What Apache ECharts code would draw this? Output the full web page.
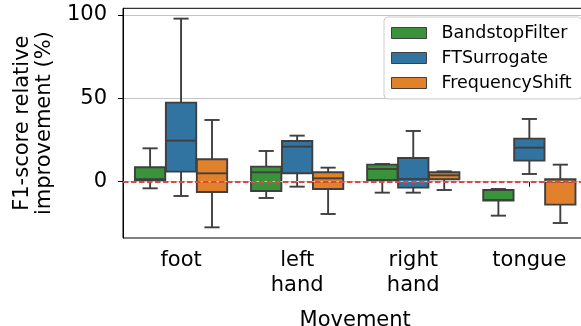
<!DOCTYPE html>
<html>
<head>
<meta charset="utf-8">
<script src="https://cdn.jsdelivr.net/npm/echarts@6/dist/echarts.min.js"></script>
<style>
  html, body { margin: 0; padding: 0; background: #fff; }
  #chart { width: 581px; height: 326px; }
</style>
</head>
<body>
<div id="chart"></div>
<script>
// Movement categories on the x axis
const categories = ['foot', 'left\nhand', 'right\nhand', 'tongue'];
const seriesNames = ['BandstopFilter', 'FTSurrogate', 'FrequencyShift'];
const seriesColors = ['#3a923a', '#3274a1', '#e1812c'];

// Each row: [low whisker, Q1, median, Q3, high whisker] in % improvement
const bandstopFilter = [
  [-4.0, 1.0, 1.5, 8.6, 20.0],
  [-9.8, -5.6, 5.6, 9.0, 18.4],
  [-6.6, 1.0, 7.6, 10.2, 10.6],
  [-20.4, -11.4, -11.0, -5.0, -4.4]
];
const ftSurrogate = [
  [-8.6, 6.0, 24.6, 47.4, 97.8],
  [-3.0, 5.0, 21.0, 24.4, 27.6],
  [-6.6, -3.6, 1.6, 14.2, 30.4],
  [4.6, 12.6, 20.4, 25.8, 37.6]
];
const frequencyShift = [
  [-27.4, -6.2, 5.0, 13.4, 37.0],
  [-19.4, -4.4, 2.0, 5.6, 8.4],
  [-5.0, 1.4, 3.8, 5.6, 6.2],
  [-24.8, -13.8, 0.0, 1.4, 10.2]
];
const yTicks = [0, 50, 100];

const seriesData = [bandstopFilter, ftSurrogate, frequencyShift];
const EDGE = '#3f3f3f';
const FONT = 'DejaVu Sans';

// Draws one box (whiskers, caps, box, median) per category, dodged by hue
function makeRenderer(hueIndex, color) {
  return function (params, api) {
    const cat = api.value(0);
    const band = api.size([1, 0])[0];
    const slot = band * 0.8 / 3;
    const boxW = slot * 0.98;
    const cx = api.coord([cat, 0])[0] + (hueIndex - 1) * slot;
    const y = (k) => api.coord([cat, api.value(k)])[1];
    const yMin = y(1), yQ1 = y(2), yMed = y(3), yQ3 = y(4), yMax = y(5);
    const edge = { stroke: EDGE, lineWidth: 1.9, fill: null };
    const line = (x1, y1, x2, y2) => ({ type: 'line', shape: { x1, y1, x2, y2 }, style: edge });
    return {
      type: 'group',
      children: [
        line(cx, yQ3, cx, yMax),
        line(cx, yQ1, cx, yMin),
        line(cx - boxW / 4, yMax, cx + boxW / 4, yMax),
        line(cx - boxW / 4, yMin, cx + boxW / 4, yMin),
        {
          type: 'rect',
          shape: { x: cx - boxW / 2, y: yQ3, width: boxW, height: yQ1 - yQ3 },
          style: { fill: color, stroke: EDGE, lineWidth: 1.9 }
        },
        line(cx - boxW / 2, yMed, cx + boxW / 2, yMed)
      ]
    };
  };
}

const series = seriesNames.map((name, h) => ({
  name: name,
  type: 'custom',
  renderItem: makeRenderer(h, seriesColors[h]),
  itemStyle: { color: seriesColors[h] },
  encode: { x: 0, y: [1, 2, 3, 4, 5] },
  data: seriesData[h].map((row, i) => [i].concat(row)),
  silent: true
}));

// Reference line at zero (gridline plus red dashed line on top of the boxes)
series[2].markLine = {
  silent: true,
  symbol: 'none',
  label: { show: false },
  animation: false,
  data: [
    { yAxis: 0, lineStyle: { color: '#c4c4c4', width: 1.2, type: 'solid' } },
    { yAxis: 0, lineStyle: { color: '#dd4848', width: 2, type: [5.5, 2.5] } }
  ]
};

const chart = echarts.init(document.getElementById('chart'), null, { renderer: 'canvas' });
chart.setOption({
  animation: false,
  backgroundColor: '#fff',
  textStyle: { fontFamily: FONT },
  grid: {
    left: 123, right: -6.4, top: 8.3, bottom: 88,
    show: true, borderColor: '#000', borderWidth: 1,
    containLabel: false, outerBoundsMode: 'none'
  },
  legend: {
    orient: 'vertical',
    left: 384, top: 17,
    icon: 'rect',
    itemWidth: 35, itemHeight: 11, itemGap: 7,
    padding: [7, 10, 7, 7],
    backgroundColor: 'rgba(255,255,255,0.85)',
    borderColor: '#cccccc', borderWidth: 1, borderRadius: 4,
    itemStyle: { borderColor: EDGE, borderWidth: 1 },
    textStyle: { fontFamily: FONT, fontSize: 17.5, lineHeight: 18, color: '#000', padding: [0, 0, 0, 10] },
    data: seriesNames
  },
  xAxis: {
    type: 'category',
    data: categories,
    boundaryGap: true,
    axisLine: { show: true, lineStyle: { color: '#000', width: 1 } },
    axisTick: { show: true, alignWithLabel: true, length: 5, lineStyle: { color: '#000' } },
    axisLabel: { fontFamily: FONT, fontSize: 21, lineHeight: 25, color: '#000', margin: 10 },
    splitLine: { show: false },
    name: 'Movement',
    nameLocation: 'middle',
    nameGap: 72,
    nameTextStyle: { fontFamily: FONT, fontSize: 21, color: '#000' }
  },
  yAxis: {
    type: 'value',
    min: -33.8,
    max: 104,
    axisLine: { show: true, lineStyle: { color: '#000', width: 1 } },
    axisTick: { show: true, length: 5, customValues: yTicks, lineStyle: { color: '#000' } },
    axisLabel: { fontFamily: FONT, fontSize: 21, color: '#000', margin: 16, customValues: yTicks },
    splitLine: { show: true, lineStyle: { color: '#c4c4c4', width: 1 } },
    name: 'F1-score relative\nimprovement (%)',
    nameLocation: 'middle',
    nameGap: 57,
    nameTextStyle: { fontFamily: FONT, fontSize: 21, lineHeight: 22, color: '#000' }
  },
  series: series
});
</script>
</body>
</html>
